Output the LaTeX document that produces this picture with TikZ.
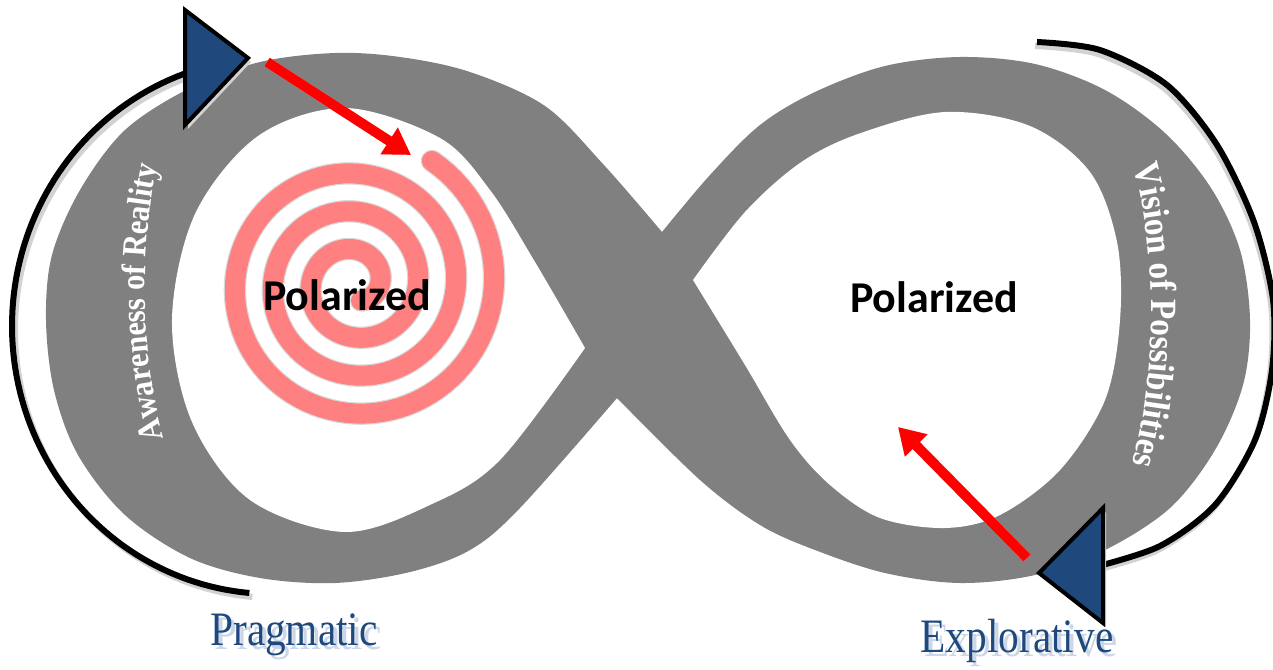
\documentclass[tikz,border=0pt]{standalone}
\usepackage{fontspec}
\usetikzlibrary{arrows.meta,decorations.text}
\newfontfamily\polfont{Carlito}
\newfontfamily\bandfont{Liberation Serif}[FakeStretch=0.9]
\newfontfamily\tagfont{Liberation Serif}[FakeStretch=0.86]
\definecolor{band}{HTML}{808080}
\definecolor{navy}{HTML}{1F497D}
\definecolor{spiral}{HTML}{FF8080}
\definecolor{halo}{HTML}{DADADA}
\definecolor{shade}{HTML}{D2D2D2}
\definecolor{tagshadow}{HTML}{CBD7E8}
\begin{document}
\begin{tikzpicture}[x=0.5pt,y=-0.5pt,
  arcline/.style={draw=black,line width=3pt},
  arcshade/.style={draw=shade,line width=3pt},
  tri/.style={fill=navy,draw=black,line width=2pt,line join=miter},
  trishade/.style={fill=shade},
  redarrow/.style={draw=red,line width=5pt,-{Triangle[length=13pt,width=15pt]}},
  arrowshade/.style={draw=shade,line width=5pt,-{Triangle[length=13pt,width=15pt]}},
  polar/.style={font=\polfont\bfseries\fontsize{22pt}{26pt}\selectfont,anchor=base},
  tag/.style={font=\tagfont\fontsize{24pt}{28pt}\selectfont,anchor=base}]
\useasboundingbox (0,0) rectangle (1273,669);
\fill[white] (0,0) rectangle (1273,669);

% the figure-eight band: outline of both loops, cusps at the crossing
\fill[band] plot[smooth,tension=0.55] coordinates {(662,232) (603,164) (545,106) (470,72) (400,57) (335,53) (260,62) (190,88) (125,130) (80,190) (52,255) (46,320) (54,390) (78,455) (125,515) (190,558) (260,578) (335,583) (410,572) (470,550) (520,508) (617,398)}
  -- plot[smooth,tension=0.55] coordinates {(617,398) (700,480) (760,525) (815,550) (885,573) (960,583) (1035,575) (1105,550) (1170,508) (1215,450) (1243,385) (1250,320) (1240,250) (1211,188) (1165,133) (1105,90) (1035,64) (960,57) (885,66) (815,92) (760,125) (710,175) (662,232)} -- cycle;
% holes of the two loops
\fill[white] plot[smooth,tension=0.55] coordinates {(585,348) (535,262) (490,190) (440,138) (345,108) (258,136) (195,214) (172,320) (192,422) (250,500) (345,532) (432,504) (500,460) (585,348)};
\fill[white] plot[smooth,tension=0.55] coordinates {(693,280) (745,212) (800,163) (858,134) (945,112) (1030,126) (1090,172) (1117,242) (1120,320) (1105,400) (1060,470) (1000,515) (945,528) (880,518) (830,485) (790,440) (745,365) (693,280)};

% spiral in the left loop
\draw[halo,line width=11.2pt,line cap=round] plot[domain=1150:-58,samples=320,variable=\t] ({355+(139-0.105556*\t)*cos(\t)},{284+(139-0.105556*\t)*sin(\t)});
\draw[spiral,line width=10pt,line cap=round] plot[domain=1150:-58,samples=320,variable=\t] ({355+(139-0.105556*\t)*cos(\t)},{284+(139-0.105556*\t)*sin(\t)});

% outer black arcs with soft shadows
\draw[arcshade,shift={(3,4)}] plot[domain=252:95,samples=90,variable=\t] ({272+260*cos(\t)},{326+268*sin(\t)});
\draw[arcline] plot[domain=252:95,samples=90,variable=\t] ({272+260*cos(\t)},{326+268*sin(\t)});
\draw[arcshade,shift={(-2,4)}] plot[smooth] coordinates {(1037,42) (1100,50) (1167,85) (1217,145) (1254,222) (1273,300) (1272,370) (1255,440) (1215,505) (1160,546) (1095,567)};
\draw[arcline] plot[smooth] coordinates {(1037,42) (1100,50) (1167,85) (1217,145) (1254,222) (1273,300) (1272,370) (1255,440) (1215,505) (1160,546) (1095,567)};

% direction triangles
\fill[trishade,shift={(3,4)}] (185,10) -- (248,58) -- (185,125) -- cycle;
\filldraw[tri] (185,10) -- (248,58) -- (185,125) -- cycle;
\fill[trishade,shift={(3,4)}] (1103,508) -- (1103,623) -- (1039,573) -- cycle;
\filldraw[tri] (1103,508) -- (1103,623) -- (1039,573) -- cycle;

% red arrows
\coordinate (a1s) at (267,62);
\coordinate (a1e) at (411,155);
\coordinate (a2s) at (1027,558);
\coordinate (a2e) at (898,427);
\draw[arrowshade,shift={(2,4)}] (a1s) -- (a1e);
\draw[redarrow] (a1s) -- (a1e);
\draw[arrowshade,shift={(2,4)}] (a2s) -- (a2e);
\draw[redarrow] (a2s) -- (a2e);

% centre labels
\node[polar] (polL) at (347,310) {Polarized};
\node[polar] (polR) at (934,312) {Polarized};

% labels written along the band
\path[decorate,decoration={text along path,text align=center,text color=white,
  text={|\bandfont\bfseries\fontsize{17pt}{19pt}\selectfont|Awareness of Reality}}]
  (170,458) .. controls (138,360) and (138,240) .. (162,145);
\path[decorate,decoration={text along path,text align=center,text color=white,
  text={|\bandfont\bfseries\fontsize{18.5pt}{20pt}\selectfont|Vision of Possibilities}}]
  (1126,140) .. controls (1160,240) and (1160,390) .. (1124,490);

% bottom captions with a light echo
\node[tag,text=tagshadow] at (298,649) {Pragmatic};
\node[tag,text=navy] (prag) at (294,645) {Pragmatic};
\node[tag,text=tagshadow] at (1021,656) {Explorative};
\node[tag,text=navy] (expl) at (1017,652) {Explorative};
\end{tikzpicture}
\end{document}
